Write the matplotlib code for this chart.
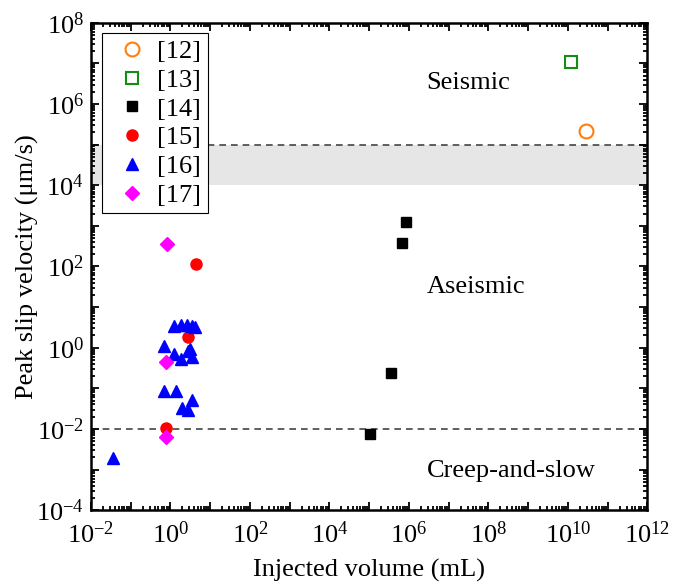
import matplotlib
matplotlib.use('Agg')
import matplotlib.pyplot as plt
import matplotlib.ticker as mticker
import numpy as np

plt.rc('font', family='Liberation Serif', size=19)
plt.rcParams['mathtext.fontset'] = 'custom'
plt.rcParams['mathtext.rm'] = 'Liberation Serif'
plt.rcParams['mathtext.it'] = 'Liberation Serif:italic'

# data (injected volume in mL, peak slip velocity in um/s)
ref12_x = [2.8e10]
ref12_y = [2.2e5]
ref13_x = [1.2e10]
ref13_y = [1.1e7]
ref14_x = [8.7e5, 6.6e5, 3.5e5, 1.05e5]
ref14_y = [1220, 370, 0.236, 0.0075]
ref15_x = [4.4, 2.7, 0.78]
ref15_y = [112, 1.83, 0.0104]
ref16_x = [1.2, 1.86, 2.6, 3.45, 4.2, 0.68, 1.2, 1.86, 2.7, 3.15, 3.6,
           0.69, 1.38, 3.5, 2.0, 2.7, 0.036]
ref16_y = [3.4, 3.6, 3.7, 3.5, 3.3, 1.1, 0.69, 0.53, 0.83, 0.91, 0.59,
           0.086, 0.086, 0.052, 0.033, 0.030, 0.0019]
ref17_x = [0.81, 0.77, 0.78]
ref17_y = [360, 0.44, 0.0064]

fig = plt.figure(figsize=(6.73, 5.85), dpi=100)
ax = fig.add_axes([0.135, 0.128, 0.827, 0.833])

ax.axhspan(1e4, 1e5, color='#e6e6e6', lw=0, zorder=0)
ax.axhline(1e5, color='#444444', ls=(0, (4, 3)), lw=1.2, zorder=1)
ax.axhline(1e-2, color='#444444', ls=(0, (4, 3)), lw=1.2, zorder=1)

ax.plot(ref12_x, ref12_y, 'o', mfc='none', mec='#ff7f0e', mew=1.5, ms=10, label='[12]')
ax.plot(ref13_x, ref13_y, 's', mfc='none', mec='#138d13', mew=1.5, ms=9, label='[13]')
ax.plot(ref14_x, ref14_y, 's', color='black', ms=6.5, label='[14]')
ax.plot(ref15_x, ref15_y, 'o', color='#ff0000', ms=8, label='[15]')
ax.plot(ref16_x, ref16_y, '^', color='#0000ff', ms=8.5, label='[16]')
ax.plot(ref17_x, ref17_y, 'D', color='#ff00ff', ms=7, label='[17]')

ax.text(2.8e6, 3.3e6, 'Seismic', ha='left', va='center', fontsize=19)
ax.text(2.8e6, 32, 'Aseismic', ha='left', va='center', fontsize=19)
ax.text(2.8e6, 9.3e-4, 'Creep-and-slow', ha='left', va='center', fontsize=19)

ax.set_xscale('log')
ax.set_yscale('log')
ax.set_xlim(1e-2, 1e12)
ax.set_ylim(1e-4, 1e8)
ax.xaxis.set_major_locator(mticker.LogLocator(base=10, numticks=20))
ax.yaxis.set_major_locator(mticker.LogLocator(base=10, numticks=20))
ax.xaxis.set_minor_locator(mticker.LogLocator(base=10, subs=np.arange(2, 10), numticks=20))
ax.yaxis.set_minor_locator(mticker.LogLocator(base=10, subs=np.arange(2, 10), numticks=20))

def every_other(v, pos):
    e = int(round(np.log10(v)))
    if e % 2:
        return ''
    return r'$\mathdefault{10^{%d}}$' % e

ax.xaxis.set_major_formatter(mticker.FuncFormatter(every_other))
ax.yaxis.set_major_formatter(mticker.FuncFormatter(every_other))
ax.xaxis.set_minor_formatter(mticker.NullFormatter())
ax.yaxis.set_minor_formatter(mticker.NullFormatter())
ax.tick_params(which='both', direction='in', top=True, right=True, width=1.3, labelsize=19)
ax.tick_params(which='major', length=6)
ax.tick_params(which='minor', length=3)
ax.tick_params(axis='x', pad=8)
ax.tick_params(axis='y', pad=5)
for s in ax.spines.values():
    s.set_linewidth(1.8)

ax.set_xlabel('Injected volume (mL)', fontsize=19, labelpad=8)
ax.set_ylabel('Peak slip velocity (μm/s)', fontsize=19, labelpad=-2)

leg = ax.legend(loc='upper left', bbox_to_anchor=(0.02, 0.979), borderaxespad=0,
                fancybox=False, edgecolor='black', framealpha=1, fontsize=19,
                handletextpad=0.05, labelspacing=0.2, borderpad=0.25, handlelength=1.8)
leg.get_frame().set_linewidth(0.8)

plt.savefig('out.png', dpi=100)
